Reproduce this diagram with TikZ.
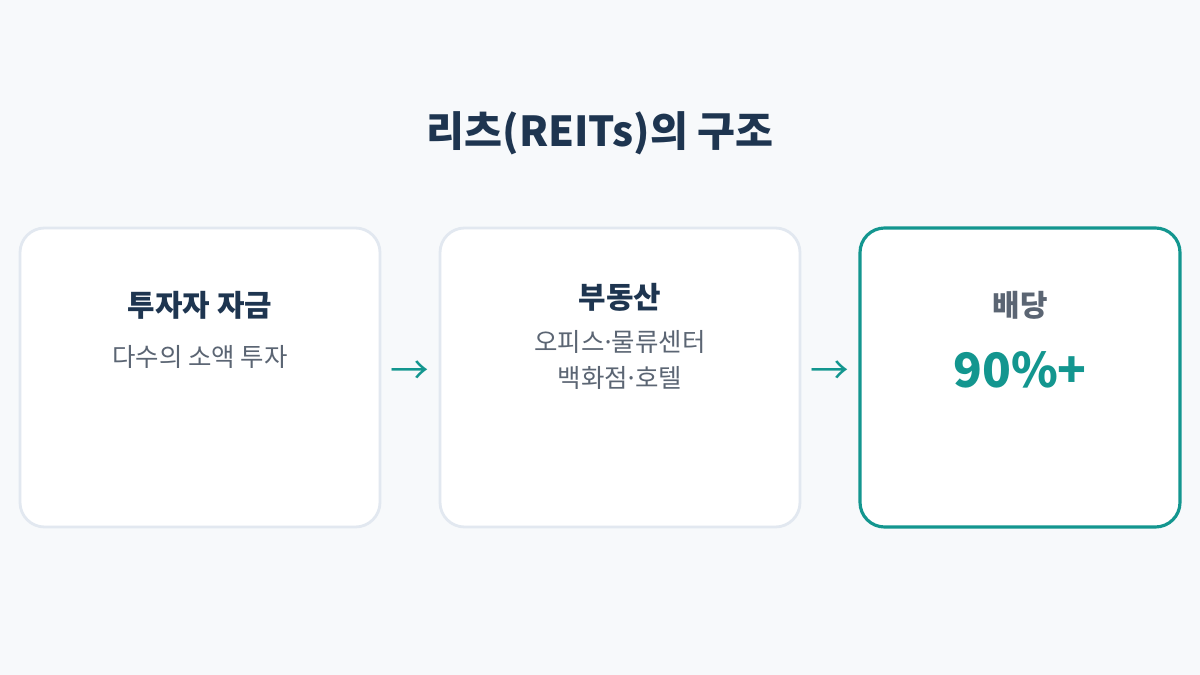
\documentclass[tikz,border=0pt]{standalone}
\usepackage{fontspec}
\setmainfont{Noto Sans CJK KR}
\usetikzlibrary{positioning}
\definecolor{pageBg}{HTML}{F7F9FB}
\definecolor{titleNavy}{HTML}{1E3550}
\definecolor{mainTeal}{HTML}{13968F}
\definecolor{textGray}{HTML}{5B6573}
\definecolor{boxLine}{HTML}{E2E8F0}
\tikzset{
    % Boxes
    stepBox/.style={draw=boxLine, line width=1.6pt, fill=white, rounded corners=14pt},
    goalBox/.style={draw=mainTeal, line width=1.8pt, fill=white, rounded corners=14pt},
    % Texts
    boxHead/.style={font=\bfseries\fontsize{17}{20}\selectfont, text=titleNavy},
    boxSub/.style={font=\fontsize{14.5}{20.5}\selectfont, text=textGray, align=center},
    flowArrow/.style={font=\fontsize{22}{22}\selectfont, text=mainTeal}
}
\begin{document}
\begin{tikzpicture}[x=0.02cm, y=-0.02cm]
    \fill[pageBg] (0,0) rectangle (1200,675);
    \useasboundingbox (0,0) rectangle (1200,675);

    % Title
    \node[font=\bfseries\fontsize{23.5}{26}\selectfont, text=titleNavy] (title) at (600,133) {리츠(REITs)의 구조};

    % Boxes
    \draw[stepBox] (20,228) rectangle (380,527);
    \draw[stepBox] (440,228) rectangle (800,527);
    \draw[goalBox] (860,228) rectangle (1180,527);

    % Investors
    \node[boxHead] (fundHead) at (200,305) {투자자 자금};
    \node[boxSub] (fundSub) at (200,357) {다수의 소액 투자};

    % Real estate
    \node[boxHead] (estateHead) at (620,297) {부동산};
    \node[boxSub] (estateSub) at (620,360) {오피스{\kern-2pt}·{\kern-2pt}물류센터\\백화점{\kern-2pt}·{\kern-2pt}호텔};

    % Dividend
    \node[boxHead, text=textGray] (divHead) at (1020,305) {배당};
    \node[font=\bfseries\fontsize{27}{30}\selectfont, text=mainTeal] (divValue) at (1020,370) {90\%+};

    % Arrows
    \node[flowArrow] (arrowA) at (410,373) {→};
    \node[flowArrow] (arrowB) at (830,373) {→};
\end{tikzpicture}
\end{document}
